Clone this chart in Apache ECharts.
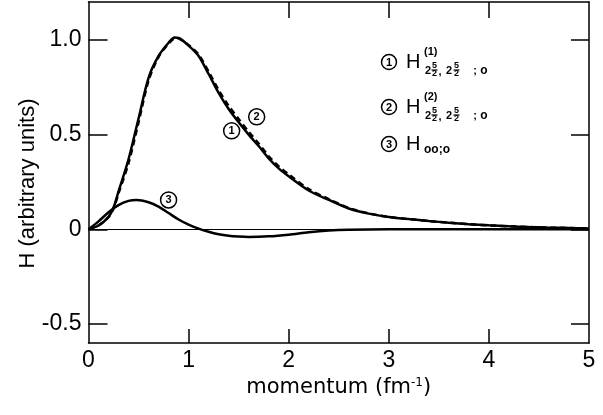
<!DOCTYPE html>
<html>
<head>
<meta charset="utf-8">
<script src="https://cdn.jsdelivr.net/npm/echarts@6/dist/echarts.min.js"></script>
<style>
html,body{margin:0;padding:0;background:#fff;}
#chart{width:603px;height:415px;}
</style>
</head>
<body>
<div id="chart"></div>
<script>
// ---- data ----
var xTicks = [0, 1, 2, 3, 4, 5];
var yTicks = [-0.5, 0, 0.5, 1.0];

var curve1 = [
  [0,0],[0.1,0.02],[0.2,0.066],[0.25,0.115],[0.3,0.2],[0.4,0.37],[0.5,0.585],[0.6,0.8],
  [0.7,0.915],[0.8,0.985],[0.86,1.012],[0.9,1.01],[1.0,0.97],[1.1,0.915],[1.2,0.82],
  [1.3,0.72],[1.4,0.635],[1.5,0.565],[1.6,0.5],[1.7,0.44],[1.8,0.375],[1.9,0.322],
  [2.0,0.28],[2.2,0.205],[2.4,0.155],[2.6,0.11],[2.8,0.083],[3.0,0.065],[3.2,0.054],
  [3.4,0.044],[3.6,0.035],[3.8,0.027],[4.0,0.021],[4.2,0.016],[4.4,0.012],[4.6,0.009],
  [4.8,0.007],[5.0,0.005]
];
var curve2 = [
  [0,0],[0.1,0.02],[0.2,0.064],[0.25,0.11],[0.3,0.19],[0.4,0.35],[0.5,0.565],[0.6,0.785],
  [0.7,0.91],[0.8,0.98],[0.87,1.01],[0.9,1.008],[1.0,0.972],[1.1,0.922],[1.2,0.832],
  [1.3,0.735],[1.4,0.652],[1.5,0.582],[1.6,0.515],[1.7,0.453],[1.8,0.386],[1.9,0.332],
  [2.0,0.29],[2.2,0.212],[2.4,0.16],[2.6,0.113],[2.8,0.084],[3.0,0.065],[3.2,0.054],
  [3.4,0.044],[3.6,0.035],[3.8,0.027],[4.0,0.021],[4.2,0.016],[4.4,0.012],[4.6,0.009],
  [4.8,0.007],[5.0,0.005]
];
var curve3 = [
  [0,0],[0.1,0.042],[0.2,0.09],[0.3,0.128],[0.4,0.15],[0.48,0.155],[0.6,0.143],[0.7,0.12],
  [0.8,0.086],[0.9,0.052],[1.0,0.025],[1.1,0.004],[1.2,-0.013],[1.3,-0.026],[1.4,-0.034],
  [1.5,-0.038],[1.6,-0.04],[1.8,-0.037],[2.0,-0.028],[2.2,-0.015],[2.4,-0.006],[2.6,-0.002],
  [3.0,0],[4.0,0],[5.0,0]
];
// curve annotation markers: [label, x, y]
var marks1 = [['1', 1.43, 0.52]];
var marks2 = [['2', 1.68, 0.594]];
var marks3 = [['3', 0.80, 0.155]];

var xName = 'momentum (fm{sup|-1})';
var yName = 'H (arbitrary units)';

// ---- chart ----
var chart = echarts.init(document.getElementById('chart'));
var FONT = 'Liberation Sans, Arial, sans-serif';
var WFONT = 'DejaVu Sans, sans-serif';
var X_MIN = 0, X_MAX = 5, Y_MIN = -0.6, Y_MAX = 1.2;
// inward tick lengths, in axis units
var TL_BOTTOM = 0.074, TL_TOP = 0.085, TL_LEFT = 0.19, TL_RIGHT = 0.18;

function markPts(arr) {
  return {
    symbol: 'circle', symbolSize: 16, silent: true,
    itemStyle: {color: '#fff', borderColor: '#000', borderWidth: 1.5},
    label: {show: true, position: 'inside', color: '#000', fontSize: 11, fontWeight: 'bold', fontFamily: FONT,
      formatter: function (p) { return p.name; }},
    data: arr.map(function (m) { return {name: m[0], coord: [m[1], m[2]]}; })
  };
}

function legendRow(num, cy, sup, subKind) {
  var els = [];
  els.push({type: 'circle', shape: {cx: 389, cy: cy, r: 7.5}, style: {fill: '#fff', stroke: '#000', lineWidth: 1.5}});
  els.push({type: 'text', x: 389, y: cy + 0.5, style: {text: num, fontSize: 11, fontWeight: 'bold', fontFamily: FONT, fill: '#000', align: 'center', verticalAlign: 'middle'}});
  els.push({type: 'text', x: 406, y: cy, style: {text: 'H', fontSize: 20, fontFamily: FONT, fill: '#000', align: 'left', verticalAlign: 'middle'}});
  if (sup) {
    els.push({type: 'text', x: 424, y: cy - 10, style: {text: sup, fontSize: 11, fontWeight: 'bold', fontFamily: FONT, fill: '#000', align: 'left', verticalAlign: 'middle'}});
  }
  if (subKind === 'frac') {
    var sy = cy + 9;
    var t = function (txt, x, y, fs, al) {
      els.push({type: 'text', x: x, y: y, style: {text: txt, fontSize: fs, fontWeight: 'bold', fontFamily: FONT, fill: '#000', align: al || 'center', verticalAlign: 'middle'}});
    };
    var frac = function (cx) {
      t('5', cx, sy - 5, 9);
      els.push({type: 'line', shape: {x1: cx - 3, y1: sy - 1, x2: cx + 3, y2: sy - 1}, style: {stroke: '#000', lineWidth: 1.2}});
      t('2', cx, sy + 3, 9);
    };
    t('2', 428, sy, 11);
    frac(434.5);
    t(',', 440, sy + 1, 11);
    t('2', 449, sy, 11);
    frac(456.5);
    t(';', 475, sy, 11);
    t('o', 484, sy, 12);
  } else if (subKind === 'zero') {
    els.push({type: 'text', x: 424, y: cy + 6, style: {text: 'oo;o', fontSize: 12, fontWeight: 'bold', fontFamily: FONT, fill: '#000', align: 'left', verticalAlign: 'middle'}});
  }
  return els;
}

var graphics = [].concat(
  legendRow('1', 62, '(1)', 'frac'),
  legendRow('2', 107, '(2)', 'frac'),
  legendRow('3', 144, null, 'zero')
);

// inward tick segments on all four frame sides, built from the tick arrays
var tickSegs = [];
xTicks.forEach(function (v) {
  if (v <= X_MIN || v >= X_MAX) return;
  tickSegs.push({coords: [[v, Y_MIN], [v, Y_MIN + TL_BOTTOM]]});
  tickSegs.push({coords: [[v, Y_MAX], [v, Y_MAX - TL_TOP]]});
});
yTicks.forEach(function (v) {
  tickSegs.push({coords: [[X_MIN, v], [X_MIN + TL_LEFT, v]]});
  tickSegs.push({coords: [[X_MAX, v], [X_MAX - TL_RIGHT, v]]});
});

var option = {
  animation: false,
  backgroundColor: '#fff',
  grid: {left: 88.5, right: 14, top: 2, bottom: 72, containLabel: false},
  xAxis: [{
    type: 'value', min: X_MIN, max: X_MAX, interval: 1, position: 'bottom',
    name: xName, nameLocation: 'middle', nameGap: 33,
    nameTextStyle: {color: '#000', fontSize: 21, fontFamily: WFONT,
      rich: {sup: {fontSize: 12, fontFamily: WFONT, color: '#000', verticalAlign: 'top', lineHeight: 20, padding: [0, 0, 10, 0]}}},
    axisLine: {show: true, onZero: false, lineStyle: {color: '#000', width: 1.5}},
    axisTick: {show: false},
    axisLabel: {show: true, margin: 6, color: '#000', fontSize: 23, fontFamily: FONT,
      formatter: function (v) { return String(v); }},
    splitLine: {show: false}
  }, {
    type: 'value', min: X_MIN, max: X_MAX, interval: 1, position: 'top',
    axisLine: {show: true, onZero: false, lineStyle: {color: '#000', width: 1.5}},
    axisTick: {show: false},
    axisLabel: {show: false}, splitLine: {show: false}
  }],
  yAxis: [{
    type: 'value', min: Y_MIN, max: Y_MAX, position: 'left',
    name: yName, nameLocation: 'middle', nameGap: 50, nameRotate: 90, nameMoveOverlap: false,
    nameTextStyle: {color: '#000', fontSize: 22, fontFamily: FONT, padding: [0, 22, 0, 0]},
    axisLine: {show: true, onZero: false, lineStyle: {color: '#000', width: 1.5}},
    axisTick: {show: false},
    axisLabel: {show: true, margin: 7, color: '#000', fontSize: 23, fontFamily: FONT, customValues: yTicks,
      formatter: function (v) { return v === 0 ? '0' : (v < 0 ? '-' + Math.abs(v).toFixed(1) : v.toFixed(1)); }},
    splitLine: {show: false}
  }, {
    type: 'value', min: Y_MIN, max: Y_MAX, position: 'right',
    axisLine: {show: true, onZero: false, lineStyle: {color: '#000', width: 1.5}},
    axisTick: {show: false},
    axisLabel: {show: false}, splitLine: {show: false}
  }],
  series: [
    {type: 'line', name: 'H2', data: curve2, smooth: 0.3, showSymbol: false, symbol: 'none', z: 2,
      lineStyle: {color: '#000', width: 2.5, type: [6, 4]}, markPoint: markPts(marks2)},
    {type: 'line', name: 'H1', data: curve1, smooth: 0.3, showSymbol: false, symbol: 'none', z: 3,
      lineStyle: {color: '#000', width: 2.5}, markPoint: markPts(marks1)},
    {type: 'line', name: 'H3', data: curve3, smooth: 0.3, showSymbol: false, symbol: 'none', z: 3,
      lineStyle: {color: '#000', width: 2.5}, markPoint: markPts(marks3),
      markLine: {silent: true, symbol: 'none', label: {show: false},
        lineStyle: {color: '#000', width: 1.2, type: 'solid'}, data: [{yAxis: 0}]}},
    {type: 'lines', name: 'ticks', coordinateSystem: 'cartesian2d', xAxisIndex: 0, yAxisIndex: 0,
      data: tickSegs, silent: true, z: 5, symbol: 'none',
      lineStyle: {color: '#000', width: 1.5, opacity: 1}}
  ],
  graphic: graphics
};
chart.setOption(option);
</script>
</body>
</html>
